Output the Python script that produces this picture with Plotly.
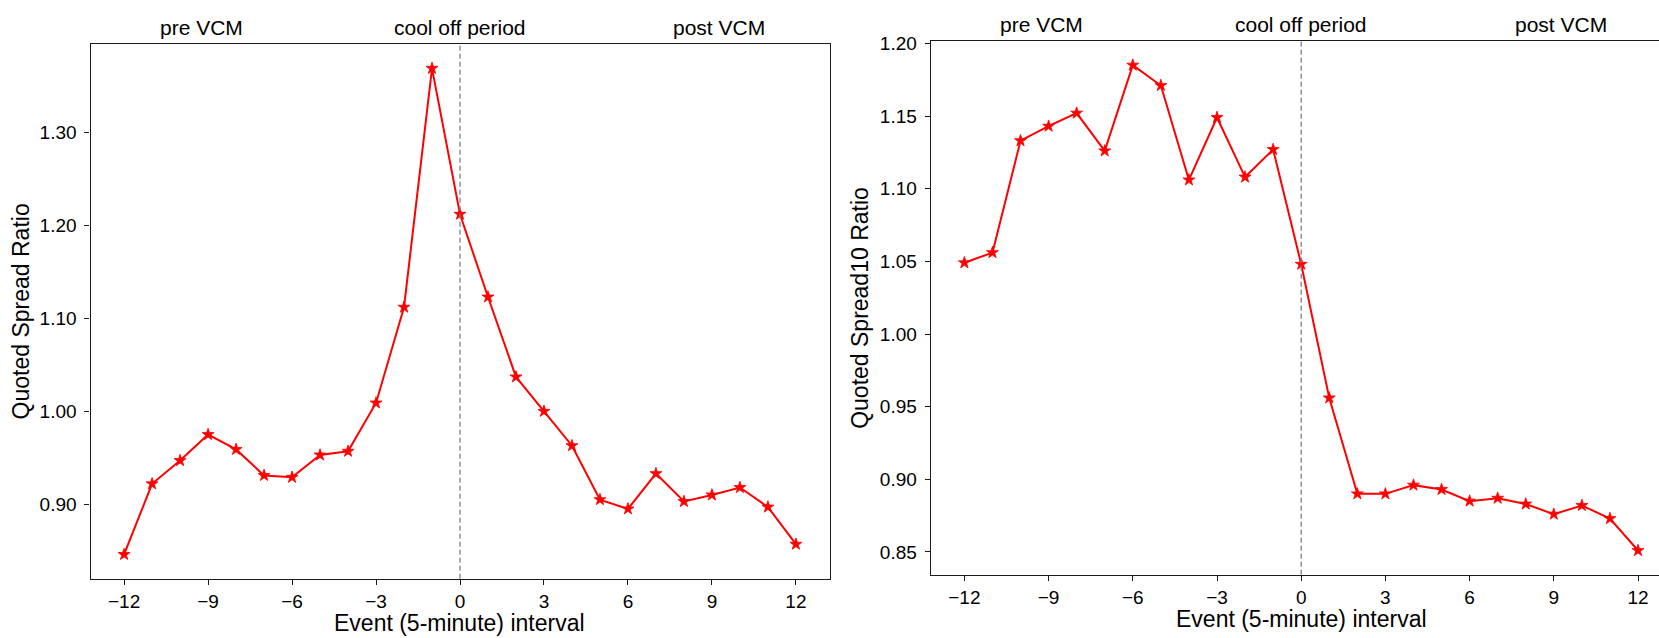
import plotly.graph_objects as go

# ---------------- data ----------------
intervals = list(range(-12, 13))
quoted_spread_ratio = [0.846, 0.922, 0.947, 0.975, 0.959, 0.931, 0.929, 0.953, 0.957, 1.009,
                       1.112, 1.369, 1.212, 1.123, 1.037, 1.000, 0.963, 0.905, 0.895, 0.933,
                       0.903, 0.910, 0.918, 0.897, 0.857]
quoted_spread10_ratio = [1.049, 1.056, 1.133, 1.143, 1.152, 1.126, 1.185, 1.171, 1.106, 1.149,
                         1.108, 1.127, 1.048, 0.956, 0.890, 0.890, 0.896, 0.893, 0.885, 0.887,
                         0.883, 0.876, 0.882, 0.873, 0.851]
x_tick_vals = [-12, -9, -6, -3, 0, 3, 6, 9, 12]
x_tick_text = ["\u221212", "\u22129", "\u22126", "\u22123", "0", "3", "6", "9", "12"]
left_y_ticks = [0.90, 1.00, 1.10, 1.20, 1.30]
right_y_ticks = [0.85, 0.90, 0.95, 1.00, 1.05, 1.10, 1.15, 1.20]
phase_labels = ["pre VCM", "cool off period", "post VCM"]
phase_fracs = [0.15, 0.5, 0.85]
event_x = 0
x_title = "Event (5-minute) interval"
left_y_title = "Quoted Spread Ratio"
right_y_title = "Quoted Spread10 Ratio"

# ---------------- layout helpers ----------------
W, H = 1659, 638
FONT = "Liberation Sans, Arial, sans-serif"
TICK_SIZE = 19
TITLE_SIZE = 23
HEADER_SIZE = 21
RED = "#ff0000"
AX_COLOR = "#1a1a1a"


def auto_range(vals, frac=0.05):
    lo, hi = min(vals), max(vals)
    pad = (hi - lo) * frac
    return [lo - pad, hi + pad]


xr_full = auto_range(intervals)  # [-13.2, 13.2]

# pixel geometry of the two axes
L_left, L_right, L_top, L_bot = 90.5, 829.5, 36.5, 578.0
R_left, R_top, R_bot = 930.7, 33.3, 574.0
R_width_full = L_right - L_left + 2.0
px_per_unit_r = R_width_full / (xr_full[1] - xr_full[0])
xr_right = [xr_full[0], xr_full[0] + (W - R_left) / px_per_unit_r]

fig = go.Figure()

for xa, ya, yvals in (("x", "y", quoted_spread_ratio), ("x2", "y2", quoted_spread10_ratio)):
    fig.add_trace(go.Scatter(
        x=intervals, y=yvals, xaxis=xa, yaxis=ya, mode="lines+markers",
        line=dict(color=RED, width=2),
        marker=dict(symbol="star", size=9, color=RED, line=dict(color=RED, width=0.8)),
        showlegend=False, hoverinfo="x+y", cliponaxis=False,
    ))

axis_common = dict(
    showgrid=False, zeroline=False, showline=True, linecolor=AX_COLOR, linewidth=1.2,
    ticks="outside", ticklen=5, tickwidth=1.2, tickcolor=AX_COLOR,
    tickfont=dict(family=FONT, size=TICK_SIZE, color="#000"),
)

fig.update_layout(
    width=W, height=H, autosize=False,
    margin=dict(l=0, r=0, t=0, b=0, pad=0),
    paper_bgcolor="white", plot_bgcolor="white",
    xaxis=dict(domain=[L_left / W, L_right / W], range=xr_full, anchor="y",
               tickvals=x_tick_vals, ticktext=x_tick_text, mirror=True, **axis_common),
    yaxis=dict(domain=[1 - L_bot / H, 1 - L_top / H], range=auto_range(quoted_spread_ratio),
               anchor="x", tickvals=left_y_ticks, ticktext=[f"{v:.2f}" for v in left_y_ticks],
               mirror=True, ticklabelstandoff=4, **axis_common),
    xaxis2=dict(domain=[R_left / W, 1.0], range=xr_right, anchor="y2",
                tickvals=x_tick_vals, ticktext=x_tick_text, mirror=True, **axis_common),
    yaxis2=dict(domain=[1 - R_bot / H, 1 - R_top / H], range=auto_range(quoted_spread10_ratio),
                anchor="x2", tickvals=right_y_ticks, ticktext=[f"{v:.2f}" for v in right_y_ticks],
                mirror=False, ticklabelstandoff=4, **axis_common),
)

# dashed event lines
for xref, yref in (("x", "y domain"), ("x2", "y2 domain")):
    fig.add_shape(type="line", xref=xref, yref=yref, x0=event_x, x1=event_x, y0=0, y1=1,
                  line=dict(color="#808080", width=1.3, dash="5px,3px"), layer="above")

annotations = []
# phase labels above each axes
for xref, top_px in (("x", L_top), ("x2", R_top)):
    for lab, f in zip(phase_labels, phase_fracs):
        xd = xr_full[0] + f * (xr_full[1] - xr_full[0])
        annotations.append(dict(text=lab, xref=xref, yref="paper", x=xd,
                                y=1 - (top_px - 17) / H, xanchor="center", yanchor="middle",
                                showarrow=False, font=dict(family=FONT, size=HEADER_SIZE, color="#000")))
# x titles
annotations.append(dict(text=x_title, xref="paper", yref="paper", x=(L_left + L_right) / 2 / W,
                        y=1 - 623 / H, xanchor="center", yanchor="middle", showarrow=False,
                        font=dict(family=FONT, size=TITLE_SIZE, color="#000")))
annotations.append(dict(text=x_title, xref="paper", yref="paper", x=(R_left + R_width_full / 2) / W,
                        y=1 - 619 / H, xanchor="center", yanchor="middle", showarrow=False,
                        font=dict(family=FONT, size=TITLE_SIZE, color="#000")))
# y titles
annotations.append(dict(text=left_y_title, xref="paper", yref="paper", x=21 / W,
                        y=1 - (L_top + L_bot) / 2 / H, xanchor="center", yanchor="middle",
                        textangle=-90, showarrow=False,
                        font=dict(family=FONT, size=TITLE_SIZE, color="#000")))
annotations.append(dict(text=right_y_title, xref="paper", yref="paper", x=860 / W,
                        y=1 - (R_top + R_bot) / 2 / H, xanchor="center", yanchor="middle",
                        textangle=-90, showarrow=False,
                        font=dict(family=FONT, size=TITLE_SIZE, color="#000")))
fig.update_layout(annotations=annotations)

fig.write_html(
    "out.html",
    config={"displayModeBar": False},
    post_script="document.body.style.margin='0px';document.body.style.padding='0px';"
                "document.body.style.overflow='hidden';",
)
